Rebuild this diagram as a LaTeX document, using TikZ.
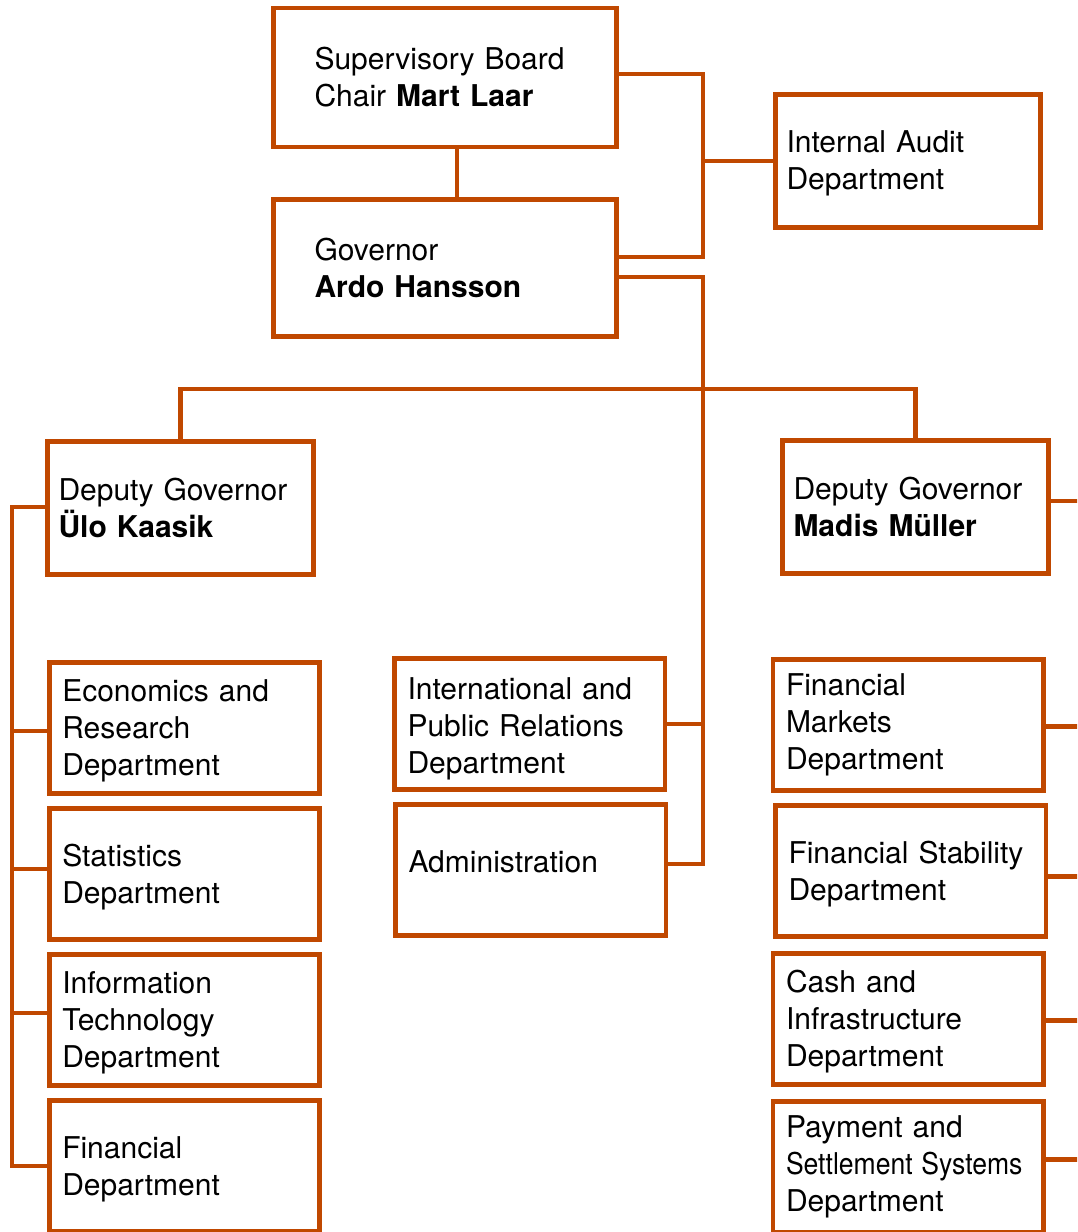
\documentclass[tikz,border=0pt]{standalone}
\usepackage{fontspec}
\setmainfont{TeX Gyre Heros}
\usetikzlibrary{positioning,calc}
\definecolor{bopOrange}{RGB}{192,72,0}

\begin{document}
\begin{tikzpicture}[x=1pt,y=-1pt,
font=\fontsize{30}{37}\selectfont,
frame/.style={draw=bopOrange,line width=4.8pt,fill=white,align=left,text width=244.5pt,
  inner xsep=13pt,inner ysep=0pt,minimum height=131pt},
box/.style={frame,text height=28pt},
topbox/.style={frame,text width=261pt,inner xsep=41pt,minimum height=139pt},
depbox/.style={frame,text width=244pt,inner xsep=11pt,minimum height=133.5pt},
link/.style={draw=bopOrange,line width=4.8pt}
]
\useasboundingbox (0,0) rectangle (1077,1232);
\clip (0,0) rectangle (1077,1232);
\fill[white] (0,0) rectangle (1077,1232);

% board, governor, audit
\node[topbox] (sb) at (445,77.5) {Supervisory Board\\Chair \textbf{Mart Laar}};
\node[topbox,minimum height=137pt,below=47.7pt of sb] (gov) {Governor\\\textbf{Ardo Hansson}};
\node[depbox,text width=243pt,minimum height=133pt,text height=26pt] (ia) at (908,161) {Internal Audit\\Department};

% deputies
\node[depbox] (dg1) at (180.5,508) {Deputy Governor\\\textbf{Ülo Kaasik}};
\node[depbox] (dg2) at (915.5,507) {Deputy Governor\\\textbf{Madis Müller}};

% left column
\node[box] (econ) at (184.5,728) {Economics and\\Research\\Department};
\node[box,below=10.2pt of econ] (stat) {Statistics\\Department};
\node[box,below=10.2pt of stat] (it) {Information\\Technology\\Department};
\node[box,below=10.2pt of it] (fin) {Financial\\Department};

% middle column
\node[box,text height=32pt] (ipr) at (529.75,724) {International and\\Public Relations\\Department};
\node[frame,below=10.2pt of ipr,xshift=1pt,text depth=16pt] (adm) {Administration};

% right column
\node[frame] (fm) at (908.25,724.75) {Financial\\Markets\\Department};
\node[box,below=10.7pt of fm,xshift=2.5pt] (fs) {Financial Stability\\Department};
\node[box,below=12.2pt of fs,xshift=-2.5pt] (ci) {Cash and\\Infrastructure\\Department};
\node[frame,below=11.7pt of ci] (ps) {Payment and\\\scalebox{0.885}[1]{Settlement Systems}\\Department};

% rails
\coordinate (audit) at (703,257);
\coordinate (trunk) at (703,277);
\coordinate (bar) at (703,389);
\coordinate (lrail) at (12,507);
\coordinate (rrail) at (1100,501);
\coordinate (admlink) at ([yshift=6pt]adm.east);

\draw[link] ([xshift=12pt]sb.south) -- ([xshift=12pt]gov.north);
\draw[link] ([yshift=3.5pt]sb.east) -| (audit) -- (audit -| gov.east);
\draw[link] (ia.west) -- (ia.west -| audit);
\draw[link] ([yshift=-9pt]gov.east) -| (admlink -| trunk) -- (admlink);
\draw[link] (ipr.east) -- (ipr.east -| trunk);
\draw[link] (dg1.north) |- (dg2.north |- bar) -- (dg2.north);

\draw[link] ([yshift=1pt]dg1.west) -| (lrail |- fin.west) -- (fin.west);
\foreach \n/\s in {econ/-3,stat/5,it/7}{
  \path ([yshift=\s pt]\n.west) coordinate (tmp);
  \draw[link] (tmp) -- (tmp -| lrail);
}
\foreach \n/\s in {dg2/6,fm/-2,fs/-5,ci/-1,ps/7}{
  \path ([yshift=\s pt]\n.east) coordinate (tmp);
  \draw[link] (tmp) -- (tmp -| rrail);
}
\end{tikzpicture}
\end{document}
